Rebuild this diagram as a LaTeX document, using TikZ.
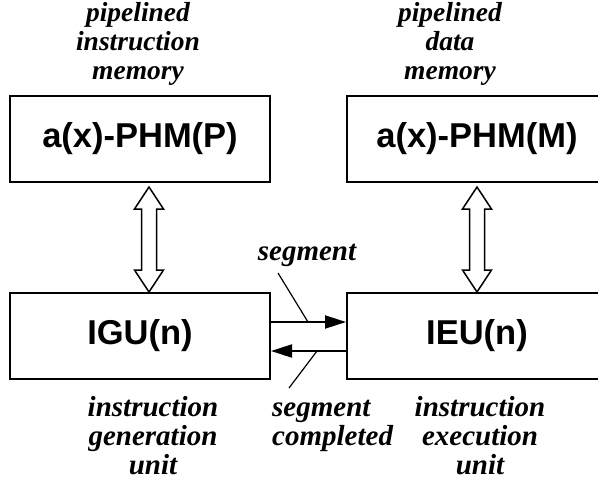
\documentclass[tikz,border=0pt]{standalone}
\usepackage{fontspec}
\setmainfont{Liberation Serif}
\setsansfont{Liberation Sans}
\usetikzlibrary{arrows.meta,calc}

% hollow two-headed arrow between a top point (#1) and a bottom point (#2)
\newcommand\hollowlink[2]{%
  \draw[hollowarrow] let \p1=(#1), \p2=(#2) in
    (\x1,\y1) -- (\x1+14.5pt,\y1-22pt) -- (\x1+7.5pt,\y1-22pt)
    -- (\x1+7.5pt,\y2+22pt) -- (\x1+14.5pt,\y2+22pt) -- (\x1,\y2)
    -- (\x1-14.5pt,\y2+22pt) -- (\x1-7.5pt,\y2+22pt)
    -- (\x1-7.5pt,\y1-22pt) -- (\x1-14.5pt,\y1-22pt) -- cycle;}

\begin{document}
\begin{tikzpicture}[x=1pt,y=-1pt,
  unit/.style={draw,line width=2pt,minimum width=260pt,minimum height=86pt,
    inner sep=0pt,font=\sffamily\bfseries\fontsize{34.5}{40}\selectfont},
  note/.style={align=center,inner sep=0pt,
    font=\rmfamily\bfseries\itshape\fontsize{29}{29}\selectfont},
  topnote/.style={note,font=\rmfamily\bfseries\itshape\fontsize{27.5}{29}\selectfont},
  flow/.style={line width=2pt,-{Triangle[length=21pt,width=13pt]}},
  leader/.style={line width=1.2pt},
  hollowarrow/.style={line width=1.5pt,fill=white,line join=miter}]
\useasboundingbox (0,0) rectangle (598,480);

% memories
\node[unit] (pp) at (140,139) {a(x)-PHM(P)};
\node[unit] (pm) at (477,139) {a(x)-PHM(M)};
% units
\node[unit] (igu) at (140,336) {IGU(n)};
\node[unit] (ieu) at (477,336) {IEU(n)};

% captions
\node[topnote,anchor=north] (cpp) at (138,2.5) {pipelined\\instruction\\memory};
\node[topnote,anchor=north] (cpm) at (450,2.5) {pipelined\\data\\memory};
\node[note,anchor=north] (cigu) at (153,396) {instruction\\generation\\unit};
\node[note,anchor=north] (cieu) at (480,396) {instruction\\execution\\unit};

% memory links
\hollowlink{[xshift=9pt,yshift=-4pt]pp.south}{[xshift=9pt]igu.north}
\hollowlink{[yshift=-4pt]pm.south}{ieu.north}

% segment hand-over
\draw[flow] ([yshift=14pt]igu.east) -- ([yshift=14pt]ieu.west);
\draw[flow] ([yshift=-15pt]ieu.west) -- ([yshift=-15pt]igu.east);

\node[note,anchor=base] (seg) at (307,260) {segment};
\node[note,align=left,anchor=north west] (done) at (272,400) {segment\\completed};

\coordinate (segA) at (278,273);
\coordinate (segB) at (308,322);
\coordinate (doneA) at (317,351);
\coordinate (doneB) at (289,388);
\draw[leader] (segA) -- (segB);
\draw[leader] (doneA) -- (doneB);
\end{tikzpicture}
\end{document}
